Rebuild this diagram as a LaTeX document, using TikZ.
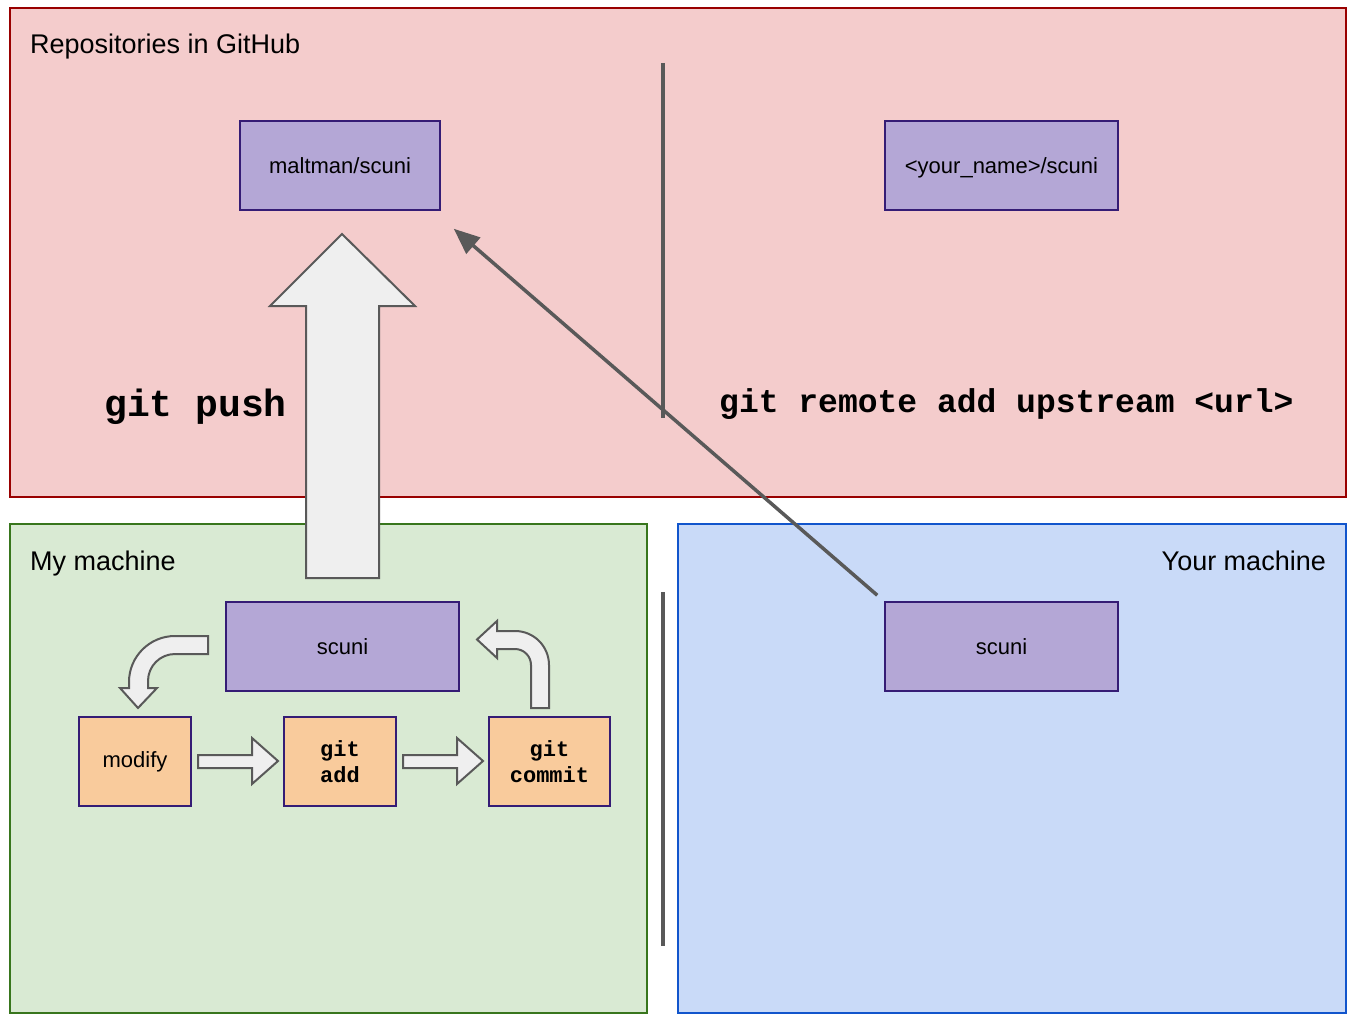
\documentclass[tikz,border=0pt]{standalone}
\usepackage{fontspec}
\setmainfont{Liberation Sans}
\setmonofont{Liberation Mono}
\usetikzlibrary{arrows.meta, positioning, calc}

\definecolor{hubfill}{HTML}{F4CCCC}
\definecolor{hubline}{HTML}{990000}
\definecolor{myfill}{HTML}{D9EAD3}
\definecolor{myline}{HTML}{38761D}
\definecolor{yourfill}{HTML}{C9DAF8}
\definecolor{yourline}{HTML}{1155CC}
\definecolor{repofill}{HTML}{B4A7D6}
\definecolor{repoline}{HTML}{351C75}
\definecolor{actfill}{HTML}{F9CB9C}
\definecolor{arrowgray}{HTML}{595959}
\definecolor{arrowfill}{HTML}{EFEFEF}

\begin{document}
\begin{tikzpicture}[x=1pt, y=-1pt,
  panel/.style={rectangle, inner sep=0pt, line width=1.5pt, minimum width=#1},
  panellabel/.style={inner sep=0pt, font=\fontsize{27}{32}\selectfont},
  repo/.style={rectangle, inner sep=0pt, minimum width=233pt, minimum height=89pt, text height=16pt, text depth=0pt, draw=repoline, fill=repofill, line width=1.5pt, font=\fontsize{22}{26}\selectfont},
  action/.style={rectangle, inner sep=0pt, minimum width=112pt, minimum height=89pt, align=center, draw=repoline, fill=actfill, line width=1.5pt, font=\fontsize{22}{26}\selectfont},
  code/.style={inner sep=0pt, font=\ttfamily\bfseries},
  blockarrow/.style={draw=arrowgray, fill=arrowfill, line width=2pt, line join=miter},
  divider/.style={draw=arrowgray, line width=4pt},
  arrow/.style={draw=arrowgray, line width=3.5pt, -{Triangle[length=26pt, width=21pt]}}]

  \useasboundingbox (0,0) rectangle (1358,1022);

  % Panels
  \node (github) [panel=1336pt, minimum height=489pt, draw=hubline, fill=hubfill] at (678,252.5) {};
  \node (mine) [panel=637pt, minimum height=489pt, draw=myline, fill=myfill] at (328.5,768.5) {};
  \node (yours) [panel=668pt, minimum height=489pt, draw=yourline, fill=yourfill] at (1012,768.5) {};

  \node (githublabel) [panellabel, anchor=base west] at (30,54) {Repositories in GitHub};
  \node (minelabel) [panellabel, anchor=base west] at (30,570) {My machine};
  \node (yourslabel) [panellabel, anchor=base east] at (1326,570) {Your machine};

  % Dividers
  \draw [divider] (662.5,63) -- (662.5,418);
  \draw [divider] (662.5,592) -- (662.5,946);

  % Repositories
  \node (maltman) [repo, minimum width=200pt] at (340,165.5) {maltman/scuni};
  \node (yourname) [repo] at (1001.5,165.5) {<your\_name>/scuni};
  \node (myscuni) [repo] at (342.5,646.5) {scuni};
  \node (yourscuni) [repo] at (1001.5,646.5) {scuni};

  % Local steps
  \node (modify) [action] at (135,761.5) {modify};
  \node (gitadd) [action, right=91.5pt of modify, font=\fontsize{22}{26}\selectfont\ttfamily\bfseries] {git\\add};
  \node (gitcommit) [action, right=91.5pt of gitadd, minimum width=121pt, font=\fontsize{22}{26}\selectfont\ttfamily\bfseries] {git\\commit};

  % Commands
  \node (pushcmd) [code, anchor=base west, font=\fontsize{38}{44}\selectfont\ttfamily\bfseries] at (104,416) {git push};
  \node (remotecmd) [code, anchor=base west, font=\fontsize{33}{40}\selectfont\ttfamily\bfseries] at (719,412) {git remote add upstream <url>};

  % Block arrows
  \draw [blockarrow] (306,578) -- (306,306) -- (270,306) -- (342,234) -- (415,306) -- (379,306) -- (379,578) -- cycle;
  \draw [blockarrow] (208,636) -- (175,636) arc[start angle=90, end angle=180, radius=46pt]
    -- (129,688) -- (120,688) -- (138,708) -- (157,688) -- (148,688) -- (148,681)
    arc[start angle=180, end angle=90, radius=27pt] -- (208,654) -- cycle;
  \draw [blockarrow] (198,755) -- (252,755) -- (252,738) -- (278,761) -- (252,784) -- (252,768) -- (198,768) -- cycle;
  \draw [blockarrow] (403,755) -- (457,755) -- (457,738) -- (483,761) -- (457,784) -- (457,768) -- (403,768) -- cycle;
  \draw [blockarrow] (531,708) -- (549,708) -- (549,665) arc[start angle=0, end angle=90, radius=34pt]
    -- (497,631) -- (497,621) -- (477,639.5) -- (497,658) -- (497,649) -- (515,649)
    arc[start angle=90, end angle=0, radius=16pt] -- cycle;

  % Arrows
  \draw [arrow] ($(yourscuni.north west)+(-7,-6)$) -- ($(maltman.south east)+(13,18)$);

\end{tikzpicture}
\end{document}
